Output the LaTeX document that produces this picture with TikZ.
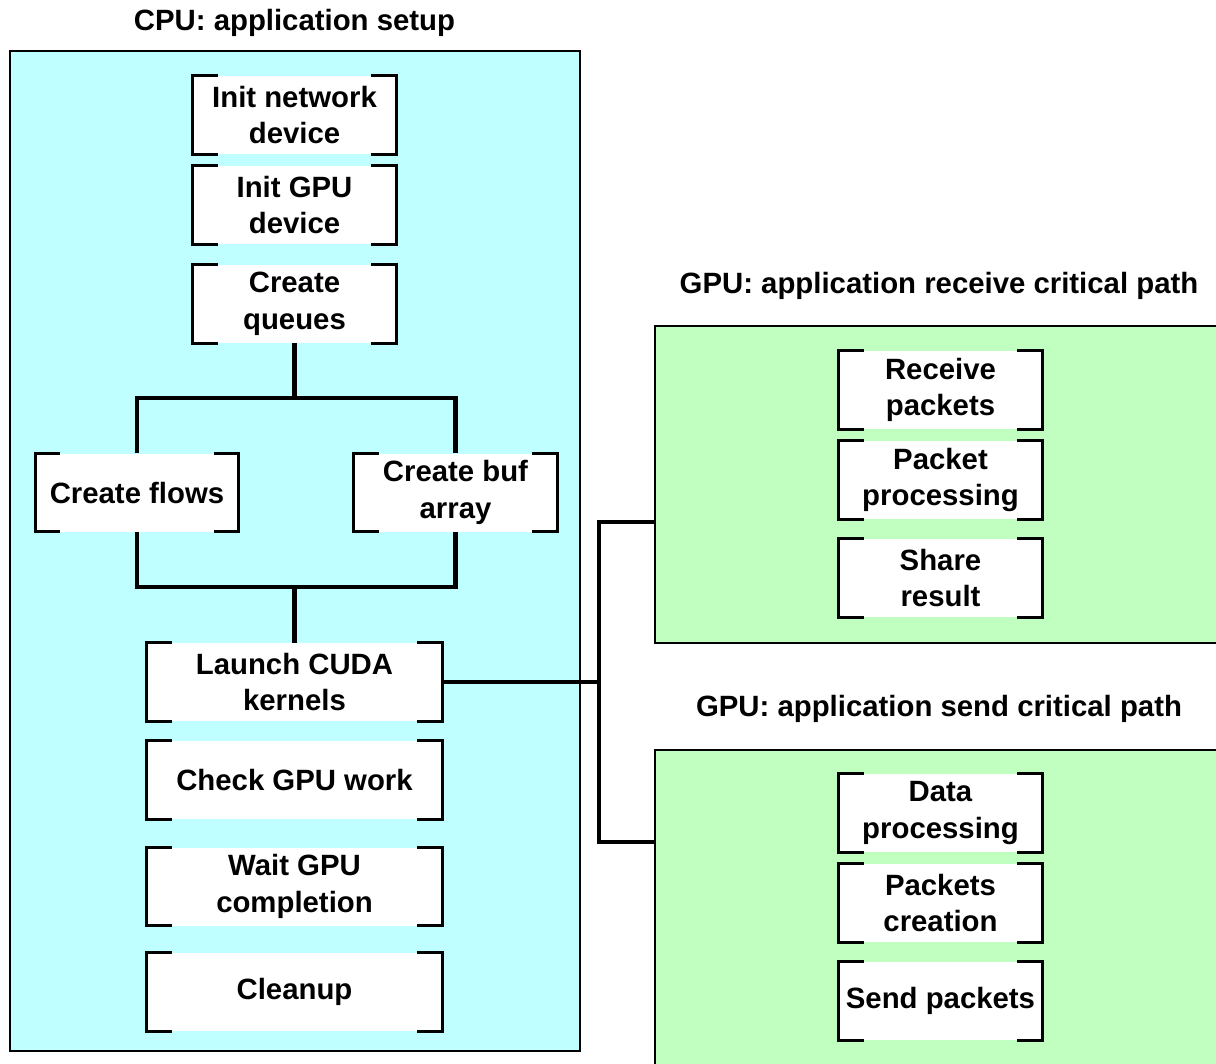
\documentclass[tikz,border=0pt]{standalone}
\usepackage{fontspec}
\setmainfont{Liberation Sans}
\definecolor{cpucol}{HTML}{BFFFFF}
\definecolor{gpucol}{HTML}{C0FFC0}
\begin{document}
\begin{tikzpicture}[x=0.02cm,y=-0.02cm,
  lbl/.style={font=\fontsize{16.7}{20.8}\selectfont\bfseries, align=center, inner sep=0pt},
  sbox/.style={lbl, fill=white, minimum width=4.06cm, minimum height=1.56cm},
  wbox/.style={lbl, fill=white, minimum width=5.9cm, minimum height=1.56cm},
  brk/.style={line width=1.6pt, line join=miter},
  conn/.style={line width=2.3pt, line join=miter},
  panel/.style={draw, line width=1.5pt}]
\useasboundingbox (0,0) rectangle (1216,1063);
\begin{scope}
\clip (0,0) rectangle (1216,1063);
% panels
\draw[panel, fill=cpucol] (10,51) rectangle (580,1051);
\draw[panel, fill=gpucol] (655,326) rectangle (1240,643);
\draw[panel, fill=gpucol] (655,750) rectangle (1240,1090);
% titles
\node[lbl] (tcpu) at (294.5,23) {CPU: application setup};
\node[lbl] (trecv) at (939,286) {GPU: application receive critical path};
\node[lbl] (tsend) at (939,709) {GPU: application send critical path};
% CPU boxes
\node[sbox] (initnet) at (294.5,115) {Init network\\device};
\node[sbox] (initgpu) at (294.5,205) {Init GPU\\device};
\node[sbox] (queues) at (294.5,304) {Create\\queues};
\node[sbox] (flows) at (137,492.5) {Create flows};
\node[sbox] (buf) at (455.5,492.5) {Create buf\\array};
\node[wbox] (launch) at (294.5,682) {Launch CUDA\\kernels};
\node[wbox] (check) at (294.5,780) {Check GPU work};
\node[wbox] (wait) at (294.5,886.5) {Wait GPU\\completion};
\node[wbox] (cleanup) at (294.5,992) {Cleanup};
% GPU boxes
\node[sbox] (recv) at (940.5,390) {Receive\\packets};
\node[sbox] (proc) at (940.5,480) {Packet\\processing};
\node[sbox] (share) at (940.5,578) {Share\\result};
\node[sbox] (data) at (940.5,813) {Data\\processing};
\node[sbox] (create) at (940.5,903) {Packets\\creation};
\node[sbox] (send) at (940.5,1001) {Send packets};
% brackets
\foreach \n in {initnet,initgpu,queues,flows,buf,launch,check,wait,cleanup,recv,proc,share,data,create,send}{
  \draw[brk] ([xshift=0.5cm]\n.north west) -| (\n.south west) -- ([xshift=0.5cm]\n.south west);
  \draw[brk] ([xshift=-0.5cm]\n.north east) -| (\n.south east) -- ([xshift=-0.5cm]\n.south east);
}
% CPU connectors
\coordinate (qsplit) at (294.5,398);
\coordinate (msplit) at (294.5,587);
\draw[conn] (queues.south) -- (qsplit);
\draw[conn] (flows.north) |- (qsplit) -| (buf.north);
\draw[conn] (flows.south) |- (msplit) -| (buf.south);
\draw[conn] (msplit) -- (launch.north);
% CPU to GPU connectors
\coordinate (split) at (599,682);
\coordinate (rin) at (655,522);
\coordinate (sin) at (655,842);
\draw[conn] (launch.east) -- (split);
\draw[conn] (rin) -| (split) |- (sin);
\end{scope}
\end{tikzpicture}
\end{document}
